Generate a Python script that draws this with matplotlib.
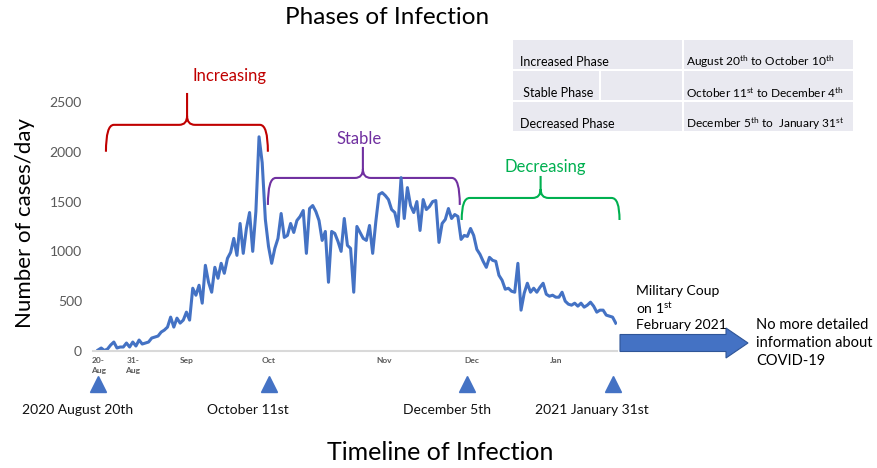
import matplotlib
matplotlib.use("Agg")
import matplotlib.pyplot as plt
import matplotlib.patches as mpatches
from matplotlib.path import Path
from matplotlib.transforms import blended_transform_factory

plt.rcParams['font.family'] = ['Lato', 'DejaVu Sans']
plt.rcParams['mathtext.fontset'] = 'custom'
plt.rcParams['mathtext.rm'] = 'Lato'
plt.rcParams['mathtext.it'] = 'Lato'

# daily cases, 20 Aug 2020 .. 31 Jan 2021
cases = [
    10, 30, 5, 20, 60, 90, 30, 40, 40, 80, 40, 90, 50, 110, 70, 80, 90, 130, 140, 150,
    190, 210, 240, 340, 240, 330, 280, 310, 390, 310, 630, 560, 660, 480, 860, 690, 590, 840, 730, 880,
    780, 930, 990, 1130, 960, 1280, 980, 1230, 1390, 1000, 1400, 2150, 1890, 1320, 1050,
    880, 1030, 1130, 1380, 1140, 1160, 1280, 1190, 1310, 1350, 1410, 980, 1430, 1460, 1400,
    1310, 1110, 1200, 690, 1200, 1180, 1100, 1000, 1330, 1060, 1030, 590, 1250, 1190, 1130,
    1110, 1260, 980, 1300, 1570, 1590, 1560, 1520, 1420, 1390, 1250, 1740, 1330, 1640, 1460,
    1390, 1500, 1210, 1520, 1420, 1450, 1500, 1510, 1090, 1280, 1320, 1430, 1330, 1370, 1350,
    1120, 1160, 1150, 1230, 1160, 1020, 970, 900, 840, 940, 910, 900, 760, 710, 620,
    630, 600, 590, 880, 410, 580, 680, 590, 630, 590, 640, 680, 570, 550, 560,
    540, 540, 590, 500, 470, 460, 480, 450, 480, 440, 460, 490, 450, 390, 410,
    410, 360, 350, 340, 280,
]
days = list(range(len(cases)))

tick_pos = [0, 11, 28, 54, 90.5, 118.5, 145]
tick_labels = ["20-\nAug", "31-\nAug", "Sep", "Oct", "Nov", "Dec", "Jan"]
y_ticks = [0, 500, 1000, 1500, 2000, 2500]

# phase braces: (label, start, end, middle, y_end, y_line, y_peak, label_x, label_y, colour)
braces = [
    ("Increasing", 2.5, 53.8, 28.2, 2000, 2270, 2590, 41.8, 2760, "#c00000"),
    ("Stable", 53.8, 114.6, 83.9, 1466, 1737, 2048, 82.6, 2130, "#7030a0"),
    ("Decreasing", 115.2, 165.2, 140.2, 1315, 1536, 1757, 141.8, 1850, "#00b050"),
]

marker_days = [0, 54, 117, 163]
marker_labels = ["2020 August 20th", "October 11st", "December 5th", "2021 January 31st"]

phases = ["Increased Phase", " Stable Phase", "Decreased Phase"]
periods = [r"August 20$^{\mathrm{th}}$ to October 10$^{\mathrm{th}}$",
           r"October 11$^{\mathrm{st}}$ to December 4$^{\mathrm{th}}$",
           r"December 5$^{\mathrm{th}}$ to  January 31$^{\mathrm{st}}$"]

blue = "#4472c4"
W, H = 877, 468

fig = plt.figure(figsize=(W / 100, H / 100), dpi=100)
ax = fig.add_axes([93 / W, 1 - 351 / H, 524 / W, 269 / H])

ax.plot(days, cases, color=blue, lw=2.2)
ax.set_xlim(-1.6, 164.4)
ax.set_ylim(0, 2700)
ax.set_yticks(y_ticks)
ax.tick_params(axis='y', length=0, labelsize=10, labelcolor="#595959", pad=8)
ax.set_xticks(tick_pos)
ax.set_xticklabels(tick_labels, fontsize=6, color="#595959", fontweight='bold', linespacing=1.5)
ax.tick_params(axis='x', length=0, pad=4)
for s in ['top', 'right', 'left']:
    ax.spines[s].set_visible(False)
ax.spines['bottom'].set_color("#d9d9d9")
ax.spines['bottom'].set_linewidth(1.5)


def brace(x0, x1, xm, y_end, y_line, y_peak, color):
    rx, ry = 2.5, 90
    verts = [(x0, y_end), (x0, y_line), (x0 + rx, y_line), (xm - rx, y_line),
             (xm, y_line), (xm, y_line + ry), (xm, y_peak),
             (xm, y_line + ry), (xm, y_line), (xm + rx, y_line),
             (x1 - rx, y_line), (x1, y_line), (x1, y_end)]
    codes = [Path.MOVETO, Path.CURVE3, Path.CURVE3, Path.LINETO,
             Path.CURVE3, Path.CURVE3, Path.LINETO,
             Path.MOVETO, Path.CURVE3, Path.CURVE3,
             Path.LINETO, Path.CURVE3, Path.CURVE3]
    ax.add_patch(mpatches.PathPatch(Path(verts, codes), fill=False, edgecolor=color,
                                    lw=1.5, clip_on=False))


for label, x0, x1, xm, y_end, y_line, y_peak, lx, ly, color in braces:
    brace(x0, x1, xm, y_end, y_line, y_peak, color)
    ax.text(lx, ly, label, color=color, fontsize=12, ha='center', va='center')

# phase markers under the axis
trans = blended_transform_factory(ax.transData, ax.transAxes)
ax.plot(marker_days, [-0.123] * len(marker_days), '^', color=blue, markersize=12,
        transform=trans, clip_on=False)
for d, lab in zip(marker_days, marker_labels):
    ax.annotate(lab, (d, -0.22), xycoords=trans, xytext=(-15, 0), textcoords='offset points',
                ha='center', va='center', fontsize=10, color="#111111")

# titles
fig.text(387 / W, 1 - 18 / H, "Phases of Infection", ha='center', va='center', fontsize=17.5)
fig.text(440 / W, 1 - 452 / H, "Timeline of Infection", ha='center', va='center', fontsize=18)
fig.text(25 / W, 1 - 223 / H, "Number of cases/day", ha='center', va='center', fontsize=16,
         rotation=90)

# phase table
tx0, tx1, ty0, ty1 = 513, 853, 40, 131
fig.patches.append(mpatches.Rectangle((tx0 / W, 1 - ty1 / H), (tx1 - tx0) / W, (ty1 - ty0) / H,
                                      transform=fig.transFigure, facecolor="#e9e9f0",
                                      edgecolor='none'))
for yy in [70, 101]:
    fig.add_artist(plt.Line2D([tx0 / W, tx1 / W], [1 - yy / H] * 2, color='white', lw=1.5,
                              transform=fig.transFigure))
fig.add_artist(plt.Line2D([683 / W] * 2, [1 - ty0 / H, 1 - ty1 / H], color='white', lw=1.5,
                          transform=fig.transFigure))
fig.add_artist(plt.Line2D([600 / W] * 2, [1 - 71 / H, 1 - 100 / H], color='white', lw=1.5,
                          transform=fig.transFigure))
for i, (ph, per) in enumerate(zip(phases, periods)):
    yy = 1 - (62 + i * 31) / H
    fig.text(520 / W, yy, ph, ha='left', va='center', fontsize=9)
    fig.text(686 / W, yy, per, ha='left', va='center', fontsize=8.6)

# coup arrow and notes
fig.patches.append(mpatches.FancyArrow(620 / W, 1 - 343 / H, 106 / W, 0, width=17 / H,
                                       head_width=30 / H, head_length=22 / W,
                                       length_includes_head=False, transform=fig.transFigure,
                                       facecolor=blue, edgecolor="#2f5597", lw=0.8))
fig.text(636 / W, 1 - 308 / H, "Military Coup\non 1$^{\\mathrm{st}}$\nFebruary 2021",
         ha='left', va='center', fontsize=10, linespacing=1.25)
fig.text(756 / W, 1 - 343 / H, "No more detailed\ninformation about\nCOVID-19",
         ha='left', va='center', fontsize=10.5, linespacing=1.35)

fig.savefig("out.png", dpi=100)
